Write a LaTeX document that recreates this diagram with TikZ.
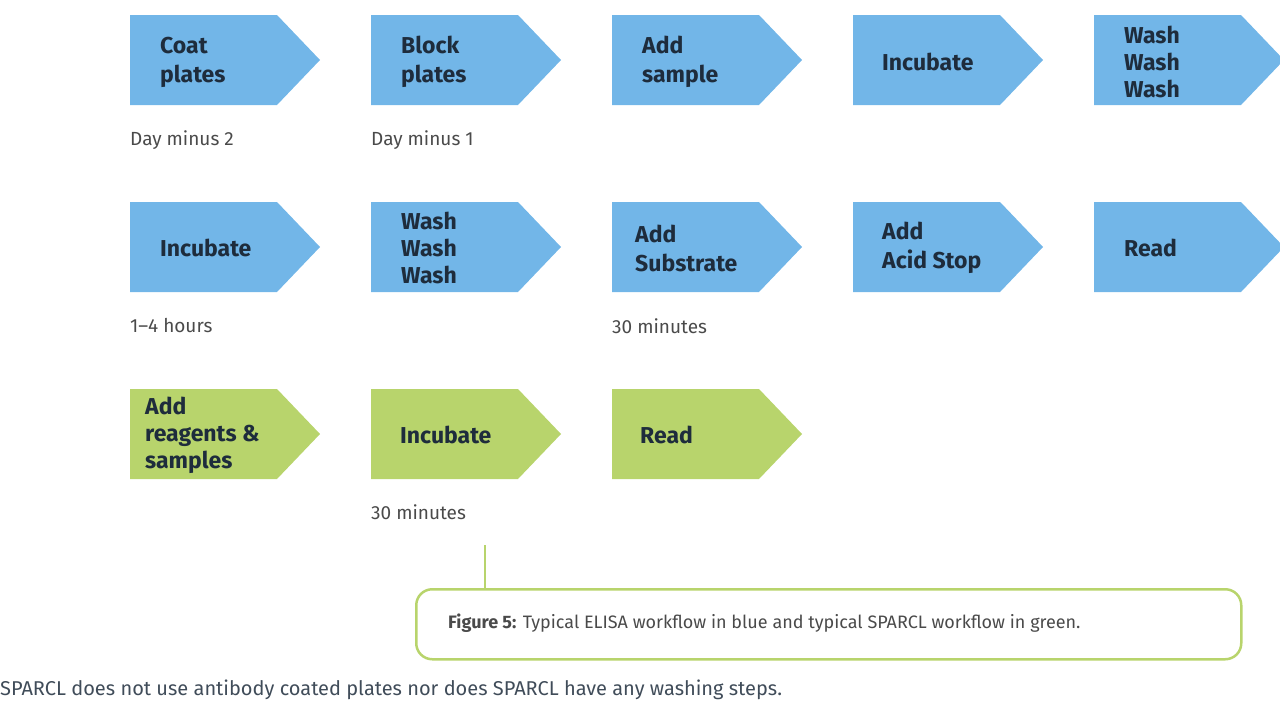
\documentclass[tikz,border=0pt]{standalone}
\usepackage{fontspec}
\setmainfont{Fira Sans}
\usetikzlibrary{shapes.symbols}
\definecolor{eblue}{HTML}{72B6E8}
\definecolor{sgreen}{HTML}{B8D46C}
\definecolor{ink}{HTML}{1E2C3C}
\definecolor{gtxt}{HTML}{4A4A4A}
\tikzset{
  arr/.style={shape=signal, signal to=east, signal pointer angle=92.6, minimum width=190pt, minimum height=90pt, inner sep=0pt, outer sep=0pt, anchor=west},
  bluearr/.style={arr, fill=eblue},
  greenarr/.style={arr, fill=sgreen},
  lbl/.style={anchor=west, align=left, text=ink, font=\fontsize{23}{29}\selectfont\bfseries, inner sep=0pt},
  lbl3/.style={lbl, font=\fontsize{23}{27}\selectfont\bfseries},
  sub/.style={anchor=west, text=gtxt, font=\fontsize{19}{22}\selectfont, inner sep=0pt}
}
\begin{document}
\begin{tikzpicture}[x=1pt,y=-1pt]
\useasboundingbox (0,0) rectangle (1280,720);
\clip (0,0) rectangle (1280,720);
% row 1
\node[bluearr] (a1) at (130,60) {};
\node[bluearr] (a2) at (371,60) {};
\node[bluearr] (a3) at (612,60) {};
\node[bluearr] (a4) at (853,60) {};
\node[bluearr] (a5) at (1094,60) {};
\node[lbl] (t1) at (160,62) {Coat\\plates};
\node[lbl] (t2) at (401,62) {Block\\plates};
\node[lbl] (t3) at (642,62) {Add\\sample};
\node[lbl] (t4) at (882,62) {Incubate};
\node[lbl3] (t5) at (1124,62) {Wash\\Wash\\Wash};
\node[sub] (s1) at (130,140) {Day minus 2};
\node[sub] (s2) at (371,140) {Day minus 1};
% row 2
\node[bluearr] (b1) at (130,247) {};
\node[bluearr] (b2) at (371,247) {};
\node[bluearr] (b3) at (612,247) {};
\node[bluearr] (b4) at (853,247) {};
\node[bluearr] (b5) at (1094,247) {};
\node[lbl] (u1) at (160,248) {Incubate};
\node[lbl3] (u2) at (401,248) {Wash\\Wash\\Wash};
\node[lbl] (u3) at (635,248) {Add\\Substrate};
\node[lbl] (u4) at (882,248) {Add\\Acid Stop};
\node[lbl] (u5) at (1124,248) {Read};
\node[sub] (r1) at (130,326) {1–4 hours};
\node[sub] (r3) at (612,326) {30 minutes};
% row 3
\node[greenarr] (c1) at (130,434) {};
\node[greenarr] (c2) at (371,434) {};
\node[greenarr] (c3) at (612,434) {};
\node[lbl3] (v1) at (145,435) {Add\\reagents \&\\samples};
\node[lbl] (v2) at (400,435) {Incubate};
\node[lbl] (v3) at (640,435) {Read};
\node[sub] (w2) at (371,512) {30 minutes};
% caption
\node[draw=sgreen, line width=2.5pt, rounded corners=16pt, minimum width=825pt, minimum height=70pt, anchor=north west, inner sep=0pt] (cap) at (415,588) {};
\node[anchor=west, text=gtxt, font=\fontsize{18}{20}\selectfont, inner sep=0pt] (capt) at (448,623) {\textbf{Figure 5:} Typical ELISA workflow in blue and typical SPARCL workflow in green.};
\coordinate (lt) at (485,545);
\draw[sgreen, line width=2.5pt] (lt) -- (lt |- cap.north);
\node[anchor=west, text=ink!85, font=\fontsize{20}{22}\selectfont, inner sep=0pt] (bot) at (0,690) {SPARCL does not use antibody coated plates nor does SPARCL have any washing steps.};
\end{tikzpicture}
\end{document}
